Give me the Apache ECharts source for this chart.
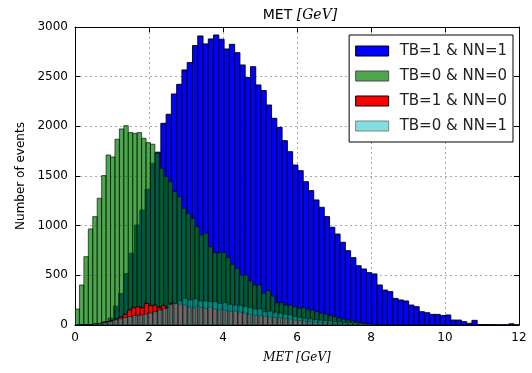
<!DOCTYPE html>
<html>
<head>
<meta charset="utf-8">
<script src="https://cdn.jsdelivr.net/npm/echarts@6/dist/echarts.min.js"></script>
<style>
  html, body { margin: 0; padding: 0; background: #fff; }
  #chart { width: 532px; height: 373px; }
</style>
</head>
<body>
<div id="chart"></div>
<script>
// Histogram of missing transverse energy for four TB/NN classes.
// Each class has its own binning: first bin edge and bin width (GeV).
const seriesNames = ['TB=1 & NN=1', 'TB=0 & NN=0', 'TB=1 & NN=0', 'TB=0 & NN=1'];

const binStartTB1NN1 = 0.04, binWidthTB1NN1 = 0.1425;
const countsTB1NN1 = [
  2, 3, 5, 8, 15, 35, 70, 190, 318, 519,
  722, 1007, 1158, 1366, 1628, 1740, 2031, 2122, 2326, 2423,
  2568, 2642, 2813, 2910, 2830, 2880, 2920, 2877, 2779, 2826,
  2742, 2618, 2491, 2601, 2417, 2360, 2215, 2081, 1990, 1856,
  1745, 1611, 1554, 1443, 1353, 1259, 1185, 1091, 984, 916,
  833, 748, 678, 597, 564, 527, 514, 403, 352, 336,
  268, 252, 242, 201, 185, 134, 124, 107, 107, 95,
  101, 50, 50, 34, 17, 47, 5, 5, 4, 4,
  3, 3, 12, 2
];

const binStartTB0NN0 = 0.0, binWidthTB0NN0 = 0.12;
const countsTB0NN0 = [
  161, 403, 688, 967, 1091, 1276, 1504, 1712, 1692, 1870,
  1974, 2007, 1937, 1930, 1937, 1880, 1836, 1820, 1729, 1578,
  1494, 1443, 1343, 1292, 1175, 1124, 1074, 990, 906, 923,
  789, 728, 728, 731, 678, 611, 571, 503, 503, 443,
  403, 403, 319, 346, 292, 225, 225, 201, 201, 185,
  168, 175, 160, 150, 135, 120, 110, 95, 85, 70,
  60, 50, 40, 30, 25, 15, 10
];

const binStartTB1NN0 = 0.15, binWidthTB1NN0 = 0.115;
const countsTB1NN0 = [
  0, 2, 5, 10, 15, 25, 35, 45, 60, 80,
  107, 151, 174, 184, 174, 218, 195, 201, 174, 195,
  174, 218, 215, 210, 200, 184, 170, 190, 175, 165,
  180, 160, 155, 158, 142, 136, 140, 130, 120, 105,
  104, 96, 92, 88, 80, 75, 74, 70, 67, 60,
  50, 45, 40, 36, 32, 28, 25, 22, 19, 16,
  13, 11, 9, 7, 5, 4, 3
];

const binStartTB0NN1 = 0.08, binWidthTB0NN1 = 0.135;
const countsTB0NN1 = [
  0, 2, 5, 10, 18, 25, 35, 50, 62, 75,
  85, 95, 100, 110, 120, 135, 150, 165, 205, 220,
  242, 268, 252, 262, 242, 242, 235, 235, 218, 225,
  208, 201, 198, 184, 174, 161, 161, 134, 140, 128,
  117, 107, 101, 84, 75, 68, 62, 55, 48, 44,
  40, 35, 30, 26, 22, 20, 16, 12, 8, 5,
  3
];

const xTicks = [0, 2, 4, 6, 8, 10, 12];
const yTicks = [0, 500, 1000, 1500, 2000, 2500, 3000];

function toBins(start, width, counts) {
  return counts.map((c, i) => [start + i * width, start + (i + 1) * width, c]);
}

function histSeries(name, data, fill, opacity, z) {
  return {
    type: 'custom',
    name: name,
    data: data,
    clip: true,
    z: z,
    encode: { x: [0, 1], y: 2 },
    renderItem: function (params, api) {
      const top = api.coord([api.value(0), api.value(2)]);
      const base = api.coord([api.value(1), 0]);
      return {
        type: 'rect',
        shape: { x: top[0], y: top[1], width: base[0] - top[0], height: base[1] - top[1] },
        style: { fill: fill, stroke: '#000', lineWidth: 0.9, opacity: opacity }
      };
    }
  };
}

const gridLine = { show: true, lineStyle: { color: '#a8a8a8', type: [2, 3], width: 1 } };
const frame = { show: true, onZero: false, lineStyle: { color: '#000', width: 1 } };
const ticksIn = { show: true, inside: true, length: 5, lineStyle: { color: '#000' } };
const tickFont = { color: '#000', fontSize: 12, fontFamily: 'DejaVu Sans', formatter: v => String(v) };

const chart = echarts.init(document.getElementById('chart'), null, { renderer: 'canvas' });
chart.setOption({
  animation: false,
  backgroundColor: '#fff',
  title: {
    text: 'MET {m|[GeV]}',
    left: 295, top: 3, textAlign: 'center',
    textStyle: {
      fontSize: 14, fontWeight: 'normal', color: '#000', fontFamily: 'DejaVu Sans',
      rich: { m: { fontSize: 14, fontStyle: 'italic', fontFamily: 'DejaVu Serif', color: '#000' } }
    }
  },
  grid: { left: 75, right: 13, top: 27, bottom: 48 },
  legend: {
    orient: 'vertical',
    right: 19, top: 35,
    backgroundColor: '#fff',
    borderColor: '#000', borderWidth: 1,
    padding: [7, 6, 7, 6],
    itemWidth: 33, itemHeight: 10, itemGap: 7,
    selectedMode: false,
    textStyle: { fontSize: 15, fontFamily: 'DejaVu Sans', color: '#222', lineHeight: 18, padding: [0, 0, 0, 6] },
    data: [
      { name: seriesNames[0], icon: 'rect', itemStyle: { color: '#0000ff', borderColor: '#000', borderWidth: 1, opacity: 1 } },
      { name: seriesNames[1], icon: 'rect', itemStyle: { color: '#4da64d', borderColor: '#4d4d4d', borderWidth: 1, opacity: 1 } },
      { name: seriesNames[2], icon: 'rect', itemStyle: { color: '#ff0000', borderColor: '#000', borderWidth: 1, opacity: 1 } },
      { name: seriesNames[3], icon: 'rect', itemStyle: { color: '#80dfdf', borderColor: '#808080', borderWidth: 1, opacity: 1 } }
    ]
  },
  xAxis: [
    {
      type: 'value', min: xTicks[0], max: xTicks[xTicks.length - 1], interval: 2,
      position: 'bottom',
      axisLine: frame, axisTick: ticksIn, splitLine: gridLine,
      axisLabel: Object.assign({ margin: 7 }, tickFont),
      name: 'MET {n|[GeV]}',
      nameLocation: 'middle', nameGap: 27,
      nameTextStyle: {
        fontSize: 12, fontStyle: 'italic', fontFamily: 'DejaVu Serif', color: '#000',
        rich: { n: { fontSize: 12, fontStyle: 'italic', fontFamily: 'DejaVu Serif', color: '#000' } }
      }
    },
    {
      type: 'value', min: xTicks[0], max: xTicks[xTicks.length - 1], interval: 2,
      position: 'top',
      axisLine: frame, axisTick: ticksIn, splitLine: { show: false },
      axisLabel: { show: false }
    }
  ],
  yAxis: [
    {
      type: 'value', min: yTicks[0], max: yTicks[yTicks.length - 1], interval: 500,
      position: 'left',
      axisLine: frame, axisTick: ticksIn, splitLine: gridLine,
      axisLabel: Object.assign({ margin: 7 }, tickFont),
      name: 'Number of events',
      nameLocation: 'middle', nameGap: 45, nameRotate: 90,
      nameTextStyle: { fontSize: 12, fontFamily: 'DejaVu Sans', color: '#000' }
    },
    {
      type: 'value', min: yTicks[0], max: yTicks[yTicks.length - 1], interval: 500,
      position: 'right',
      axisLine: frame, axisTick: ticksIn, splitLine: { show: false },
      axisLabel: { show: false }
    }
  ],
  series: [
    histSeries(seriesNames[0], toBins(binStartTB1NN1, binWidthTB1NN1, countsTB1NN1), '#0000ff', 1, 2),
    histSeries(seriesNames[1], toBins(binStartTB0NN0, binWidthTB0NN0, countsTB0NN0), '#008000', 0.7, 3),
    histSeries(seriesNames[2], toBins(binStartTB1NN0, binWidthTB1NN0, countsTB1NN0), '#ff0000', 1, 4),
    histSeries(seriesNames[3], toBins(binStartTB0NN1, binWidthTB0NN1, countsTB0NN1), '#00bfbf', 0.5, 5)
  ]
});
</script>
</body>
</html>
